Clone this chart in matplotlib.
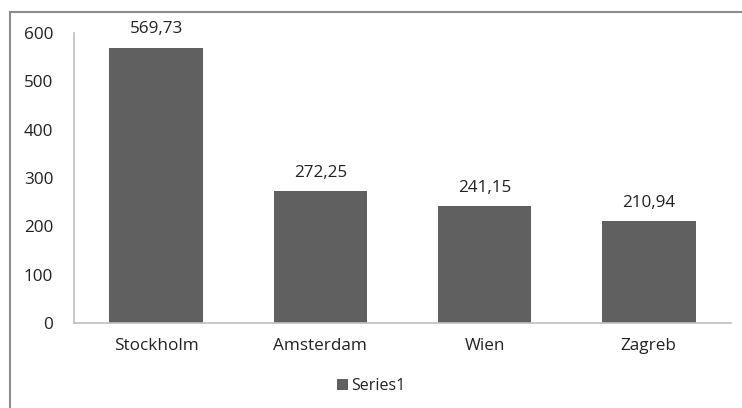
import matplotlib.pyplot as plt
from matplotlib.patches import Rectangle

plt.rcParams['font.family'] = ['Open Sans', 'DejaVu Sans']

cities = ['Stockholm', 'Amsterdam', 'Wien', 'Zagreb']
values = [569.73, 272.25, 241.15, 210.94]
series_name = 'Series1'
yticks = [0, 100, 200, 300, 400, 500, 600]

BAR = '#606060'
AXIS = '#bfbfbf'
TEXT = '#222222'
FS = 12.3

fig = plt.figure(figsize=(7.42, 4.08), dpi=100)
ax = fig.add_axes([0.0997, 0.2083, 0.8853, 0.711])

x = range(len(cities))
bars = ax.bar(x, values, width=0.57, color=BAR, label=series_name, zorder=2)

for xi, v in zip(x, values):
    ax.text(xi, v + 38, f'{v:.2f}'.replace('.', ','), ha='center', va='center',
            fontsize=FS, color=TEXT)

ax.set_xlim(-0.5, len(cities) - 0.5)
ax.set_ylim(0, 600)
ax.set_yticks(yticks)
ax.set_yticklabels([str(t) for t in yticks], fontsize=FS, color=TEXT)
ax.set_xticks(list(x))
ax.set_xticklabels(cities, fontsize=FS, color=TEXT)
ax.tick_params(axis='y', length=0, pad=15)
ax.tick_params(axis='x', length=0, pad=11)

for s in ['top', 'right']:
    ax.spines[s].set_visible(False)
for s in ['left', 'bottom']:
    ax.spines[s].set_color(AXIS)
    ax.spines[s].set_linewidth(1.2)

leg = fig.legend(handles=[bars], labels=[series_name], loc='center',
                 bbox_to_anchor=(0.5, 0.054), frameon=False, fontsize=11.5,
                 handlelength=0.7, handleheight=0.7, handletextpad=0.2)
for t in leg.get_texts():
    t.set_color(TEXT)

# outer chart frame (right and bottom edges fall outside the image)
fig.patches.append(Rectangle((10 / 742, -0.1), 1.2, (408 - 12) / 408 + 0.1,
                             transform=fig.transFigure, fill=False,
                             edgecolor='#8c8c8c', linewidth=1.5))

fig.savefig('out.png', dpi=100)
